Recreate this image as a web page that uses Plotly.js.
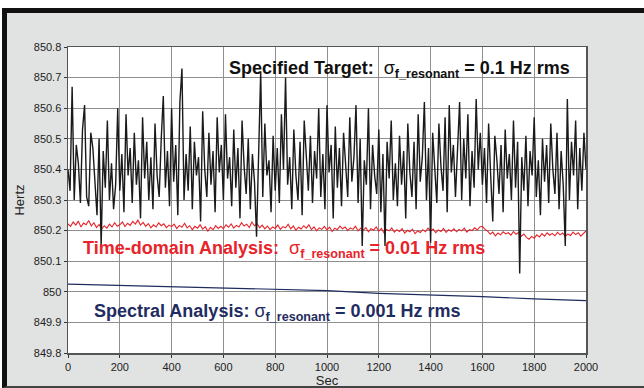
<!DOCTYPE html>
<html>
<head>
<meta charset="utf-8">
<script src="https://cdn.plot.ly/plotly-3.0.1.min.js"></script>
<style>
  html, body { margin:0; padding:0; background:#ffffff; width:644px; height:388px; overflow:hidden; }
  #frame { position:absolute; left:2px; top:8px; width:700px; height:373px; background:#e1e3e2;
           border-top:5px solid #111; border-left:5px solid #111; border-bottom:2px solid #444; }
  #chart { position:absolute; left:0; top:0; width:644px; height:388px; }
</style>
</head>
<body>
<div id="frame"></div>
<div id="chart"></div>
<script>
// ---- data ----
const xTickVals = [0, 200, 400, 600, 800, 1000, 1200, 1400, 1600, 1800, 2000];
const yTickVals = [849.8, 849.9, 850, 850.1, 850.2, 850.3, 850.4, 850.5, 850.6, 850.7, 850.8];
const yTickText = ["849.8", "849.9", "850", "850.1", "850.2", "850.3", "850.4", "850.5", "850.6", "850.7", "850.8"];

// Specified target series: one sample every 8 s, starting at 0 s
const targetStart = 0, targetStep = 8;
const targetHz = [
  850.40, 850.33, 850.67, 850.30, 850.48, 850.42, 850.29, 850.53, 850.61, 850.31,
  850.28, 850.52, 850.47, 850.36, 850.25, 850.50, 850.15, 850.46, 850.34, 850.56,
  850.30, 850.42, 850.27, 850.35, 850.60, 850.33, 850.45, 850.26, 850.58, 850.38,
  850.47, 850.29, 850.52, 850.35, 850.43, 850.24, 850.57, 850.37, 850.49, 850.30,
  850.44, 850.27, 850.55, 850.38, 850.31, 850.50, 850.64, 850.34, 850.46, 850.28,
  850.60, 850.36, 850.48, 850.25, 850.62, 850.73, 850.30, 850.45, 850.33, 850.54,
  850.27, 850.49, 850.38, 850.44, 850.23, 850.59, 850.40, 850.31, 850.52, 850.35,
  850.46, 850.26, 850.57, 850.39, 850.48, 850.30, 850.58, 850.37, 850.44, 850.28,
  850.53, 850.34, 850.47, 850.24, 850.56, 850.41, 850.32, 850.50, 850.27, 850.45,
  850.36, 850.18, 850.49, 850.72, 850.31, 850.55, 850.38, 850.43, 850.26, 850.51,
  850.33, 850.47, 850.29, 850.58, 850.40, 850.70, 850.35, 850.44, 850.27, 850.53,
  850.38, 850.30, 850.49, 850.25, 850.56, 850.42, 850.33, 850.51, 850.29, 850.46,
  850.37, 850.60, 850.31, 850.45, 850.27, 850.61, 850.39, 850.48, 850.24, 850.54,
  850.34, 850.47, 850.28, 850.52, 850.40, 850.31, 850.57, 850.36, 850.44, 850.61,
  850.29, 850.50, 850.15, 850.43, 850.35, 850.60, 850.27, 850.48, 850.38, 850.32,
  850.53, 850.26, 850.45, 850.15, 850.49, 850.37, 850.56, 850.30, 850.42, 850.28,
  850.51, 850.35, 850.46, 850.24, 850.55, 850.39, 850.31, 850.49, 850.27, 850.58,
  850.36, 850.44, 850.62, 850.30, 850.47, 850.16, 850.52, 850.38, 850.29, 850.55,
  850.41, 850.33, 850.57, 850.26, 850.61, 850.39, 850.48, 850.31, 850.45, 850.62,
  850.30, 850.50, 850.37, 850.58, 850.28, 850.46, 850.34, 850.63, 850.40, 850.52,
  850.35, 850.47, 850.29, 850.55, 850.38, 850.23, 850.51, 850.43, 850.32, 850.48,
  850.26, 850.53, 850.37, 850.45, 850.30, 850.56, 850.34, 850.49, 850.06, 850.44,
  850.33, 850.51, 850.28, 850.46, 850.38, 850.57, 850.31, 850.43, 850.25, 850.50,
  850.36, 850.48, 850.29, 850.55, 850.40, 850.32, 850.52, 850.27, 850.46, 850.35,
  850.15, 850.63, 850.30, 850.49, 850.38, 850.56, 850.27, 850.47, 850.33, 850.52,
  850.40
];

// Time-domain analysis series: one sample every 10 s
const timeStart = 0, timeStep = 10;
const timeDomainHz = [
  850.222, 850.214, 850.228, 850.218, 850.231, 850.212, 850.225, 850.219, 850.233, 850.215,
  850.226, 850.210, 850.220, 850.205, 850.216, 850.208, 850.221, 850.212, 850.226, 850.214,
  850.219, 850.228, 850.213, 850.224, 850.217, 850.230, 850.221, 850.234, 850.218, 850.227,
  850.214, 850.223, 850.209, 850.219, 850.212, 850.225, 850.216, 850.222, 850.210, 850.218,
  850.213, 850.221, 850.207, 850.217, 850.211, 850.224, 850.209, 850.216, 850.203, 850.214,
  850.208, 850.219, 850.205, 850.213, 850.198, 850.211, 850.203, 850.216, 850.207, 850.214,
  850.206, 850.219, 850.211, 850.222, 850.208, 850.217, 850.212, 850.226, 850.215, 850.221,
  850.210, 850.228, 850.216, 850.223, 850.209, 850.218, 850.206, 850.215, 850.203, 850.212,
  850.207, 850.218, 850.204, 850.213, 850.209, 850.221, 850.206, 850.215, 850.201, 850.211,
  850.205, 850.216, 850.208, 850.219, 850.203, 850.212, 850.199, 850.209, 850.204, 850.214,
  850.202, 850.211, 850.197, 850.208, 850.203, 850.215, 850.206, 850.212, 850.200, 850.209,
  850.204, 850.214, 850.199, 850.208, 850.201, 850.210, 850.196, 850.206, 850.202, 850.212,
  850.198, 850.207, 850.193, 850.204, 850.199, 850.209, 850.195, 850.203, 850.197, 850.206,
  850.192, 850.201, 850.196, 850.205, 850.190, 850.199, 850.194, 850.203, 850.196, 850.208,
  850.199, 850.205, 850.193, 850.202, 850.197, 850.207, 850.194, 850.203, 850.198, 850.206,
  850.196, 850.204, 850.199, 850.208, 850.195, 850.203, 850.200, 850.209, 850.202, 850.212,
  850.214, 850.204, 850.199, 850.188, 850.195, 850.183, 850.192, 850.186, 850.196, 850.189,
  850.193, 850.185, 850.197, 850.188, 850.194, 850.182, 850.189, 850.178, 850.172, 850.181,
  850.175, 850.186, 850.179, 850.190, 850.182, 850.193, 850.185, 850.191, 850.183, 850.194,
  850.186, 850.192, 850.181, 850.189, 850.184, 850.195, 850.187, 850.193, 850.182, 850.190,
  850.199
];

// Spectral analysis series
const spectralSec = [0, 200, 400, 600, 800, 1000, 1200, 1400, 1600, 1800, 2000];
const spectralHz  = [850.025, 850.021, 850.016, 850.011, 850.008, 850.004, 849.995, 849.990, 849.984, 849.977, 849.971];

const labelTarget   = "<b>Specified Target:</b>  σ<sub><b>f_resonant</b></sub><b> = 0.1 Hz rms</b>";
const labelTime     = "<b>Time-domain Analysis:</b>  σ<sub><b>f_resonant</b></sub><b> = 0.01 Hz rms</b>";
const labelSpectral = "<b>Spectral Analysis:</b> σ<sub><b>f_resonant</b></sub><b> = 0.001 Hz rms</b>";

// ---- chart ----
const FONT = "Liberation Sans, Arial, Helvetica, sans-serif";
const RED = "#e8232a", NAVY = "#1f2c5f";

const traces = [
  { type: "scatter", mode: "lines", x: spectralSec, y: spectralHz,
    line: { color: NAVY, width: 1.2 }, hoverinfo: "skip" },
  { type: "scatter", mode: "lines", x0: timeStart, dx: timeStep, y: timeDomainHz,
    line: { color: RED, width: 1.1 }, hoverinfo: "skip" },
  { type: "scatter", mode: "lines", x0: targetStart, dx: targetStep, y: targetHz,
    line: { color: "#1a1a1a", width: 1.4 }, hoverinfo: "skip" }
];

const layout = {
  width: 644, height: 388,
  margin: { l: 68, r: 58, t: 47, b: 35, pad: 0 },
  paper_bgcolor: "rgba(0,0,0,0)",
  plot_bgcolor: "#ffffff",
  showlegend: false,
  font: { family: FONT, size: 11, color: "#222" },
  xaxis: {
    range: [0, 2000], tickvals: xTickVals, ticktext: xTickVals.map(String),
    showgrid: true, gridcolor: "#8f8f8f", gridwidth: 1, zeroline: false,
    showline: true, linecolor: "#555", linewidth: 1.5, mirror: true,
    ticks: "outside", ticklen: 3, tickcolor: "#333", tickwidth: 1,
    tickfont: { family: FONT, size: 11, color: "#222" },
    title: { text: "Sec", font: { family: FONT, size: 13, color: "#222" }, standoff: 8 }
  },
  yaxis: {
    range: [849.8, 850.8], tickvals: yTickVals, ticktext: yTickText,
    showgrid: true, gridcolor: "#8f8f8f", gridwidth: 1, zeroline: false,
    showline: true, linecolor: "#555", linewidth: 1.5, mirror: true,
    ticks: "outside", ticklen: 3, tickcolor: "#333", tickwidth: 1,
    tickfont: { family: FONT, size: 11, color: "#222" },
    title: { text: "Hertz", font: { family: FONT, size: 13, color: "#222" }, standoff: 6 }
  },
  annotations: [
    { text: labelTarget, xref: "x", yref: "y", x: 615, y: 850.725, xanchor: "left", yanchor: "middle",
      showarrow: false, font: { family: FONT, size: 18, color: "#111" } },
    { text: labelTime, xref: "x", yref: "y", x: 52, y: 850.137, xanchor: "left", yanchor: "middle",
      showarrow: false, font: { family: FONT, size: 18, color: RED } },
    { text: labelSpectral, xref: "x", yref: "y", x: 94, y: 849.931, xanchor: "left", yanchor: "middle",
      showarrow: false, font: { family: FONT, size: 18, color: NAVY } }
  ]
};

Plotly.newPlot("chart", traces, layout, { staticPlot: true, displayModeBar: false });
</script>
</body>
</html>
